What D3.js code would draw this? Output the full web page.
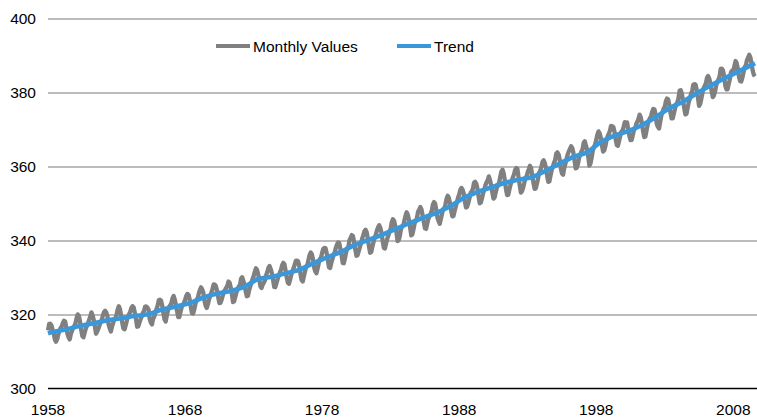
<html>
<head>
  <script src="https://d3js.org/d3.v7.min.js"></script>
  <style>
    body { margin: 0; background: #fff; }
    text { font-family: "Liberation Sans", Arial, sans-serif; fill: #000; }
    .grid line { stroke: #a6a6a6; stroke-width: 1.3; }
    .grid .domain { stroke: none; }
  </style>
</head>
<body>
  <svg width="757" height="419" id="chart"></svg>
  <script>
    // Mauna Loa CO2 (ppm), monthly, first row starts March 1958, last row ends October 2009
    const firstMonth = "1958-03";
    const monthlyValues = [
      [315.71, 317.45, 317.50, 317.10, 315.86, 314.93, 313.20, 312.66, 313.33, 314.67],
      [315.62, 316.38, 316.71, 317.72, 318.29, 318.15, 316.54, 314.80, 313.84, 313.26, 314.80, 315.58],
      [316.43, 316.97, 317.58, 319.02, 320.03, 319.59, 318.18, 315.91, 314.16, 313.83, 315.00, 316.19],
      [316.93, 317.70, 318.54, 319.48, 320.58, 319.77, 318.57, 316.79, 314.80, 315.38, 316.10, 317.01],
      [317.94, 318.56, 319.68, 320.63, 321.01, 320.55, 319.58, 317.40, 316.26, 315.42, 316.69, 317.69],
      [318.74, 319.08, 319.86, 321.39, 322.25, 321.47, 319.74, 317.77, 316.21, 315.99, 317.12, 318.31],
      [319.57, 320.07, 320.73, 321.77, 322.25, 321.89, 320.44, 318.70, 316.70, 316.79, 317.79, 318.71],
      [319.44, 320.44, 320.89, 322.13, 322.16, 321.87, 321.39, 318.81, 317.81, 317.30, 318.87, 319.42],
      [320.62, 321.59, 322.39, 323.87, 324.01, 323.75, 322.39, 320.37, 318.64, 318.10, 319.79, 321.08],
      [322.07, 322.50, 323.04, 324.42, 325.00, 324.09, 322.55, 320.92, 319.31, 319.31, 320.72, 321.96],
      [322.57, 323.15, 323.89, 325.02, 325.57, 325.36, 324.14, 322.03, 320.41, 320.25, 321.31, 322.84],
      [324.00, 324.42, 325.64, 326.66, 327.34, 326.76, 325.88, 323.67, 322.38, 321.78, 322.85, 324.11],
      [325.03, 325.99, 326.87, 328.13, 328.07, 327.66, 326.35, 324.69, 323.10, 323.16, 323.98, 325.13],
      [326.17, 326.68, 327.18, 327.78, 328.92, 328.57, 327.34, 325.46, 323.36, 323.57, 324.80, 326.01],
      [326.77, 327.63, 327.75, 329.72, 330.07, 329.09, 328.05, 326.32, 324.93, 325.06, 326.50, 327.55],
      [328.54, 329.56, 330.30, 331.50, 332.48, 332.07, 330.87, 329.31, 327.51, 327.18, 328.16, 328.64],
      [329.35, 330.71, 331.48, 332.65, 333.09, 332.25, 331.18, 329.40, 327.43, 327.37, 328.46, 329.57],
      [330.40, 331.40, 332.04, 333.31, 333.96, 333.59, 331.91, 330.06, 328.56, 328.34, 329.49, 330.76],
      [331.75, 332.56, 333.50, 334.58, 334.57, 334.34, 333.05, 330.94, 329.30, 328.94, 330.31, 331.68],
      [332.93, 333.42, 334.70, 336.07, 336.74, 336.27, 334.93, 332.75, 331.59, 331.16, 332.40, 333.85],
      [334.97, 335.39, 336.64, 337.76, 338.01, 337.89, 336.54, 334.68, 332.76, 332.54, 333.92, 334.95],
      [336.23, 336.76, 337.96, 338.89, 339.47, 339.29, 337.73, 336.09, 333.91, 333.86, 335.29, 336.73],
      [338.01, 338.36, 340.08, 340.77, 341.46, 341.17, 339.56, 337.60, 335.88, 336.01, 337.10, 338.21],
      [339.24, 340.48, 341.38, 342.51, 342.91, 342.25, 340.49, 338.43, 336.69, 336.85, 338.36, 339.61],
      [340.75, 341.61, 342.70, 343.56, 344.13, 343.35, 342.06, 339.82, 337.97, 337.86, 339.26, 340.49],
      [341.38, 342.52, 343.10, 344.94, 345.75, 345.32, 343.99, 342.39, 339.86, 339.99, 341.16, 342.99],
      [343.81, 344.06, 345.38, 346.72, 347.63, 346.97, 345.53, 343.55, 341.40, 341.67, 343.10, 344.70],
      [345.21, 346.16, 347.74, 348.33, 349.06, 348.38, 346.72, 345.02, 343.27, 343.13, 344.49, 345.88],
      [346.56, 347.28, 348.01, 349.77, 350.38, 349.93, 348.16, 346.08, 345.22, 344.51, 345.93, 347.22],
      [348.52, 348.73, 349.73, 351.31, 352.09, 351.53, 350.11, 348.08, 346.52, 346.59, 347.96, 349.16],
      [350.39, 351.64, 352.40, 353.69, 354.21, 353.72, 352.69, 350.40, 348.92, 349.13, 350.20, 351.41],
      [352.91, 353.27, 353.96, 355.64, 355.86, 355.37, 353.99, 351.81, 350.05, 350.25, 351.49, 352.85],
      [353.80, 355.04, 355.73, 356.32, 357.32, 356.34, 354.84, 353.01, 351.31, 351.62, 353.07, 354.33],
      [354.84, 355.73, 357.23, 358.66, 359.13, 358.13, 356.19, 353.85, 352.25, 352.35, 353.81, 355.12],
      [356.25, 357.11, 357.86, 359.09, 359.59, 359.33, 357.01, 354.94, 352.96, 353.32, 354.32, 355.57],
      [357.00, 357.31, 358.47, 359.27, 360.19, 359.52, 357.33, 355.64, 353.98, 354.03, 355.27, 356.70],
      [358.36, 358.91, 359.97, 361.26, 361.68, 360.95, 359.55, 357.49, 355.84, 356.00, 357.59, 359.05],
      [359.98, 361.03, 361.66, 363.48, 363.82, 363.30, 361.94, 359.50, 358.11, 357.80, 359.61, 360.74],
      [362.09, 363.29, 364.06, 364.76, 365.45, 365.01, 363.70, 361.54, 359.51, 359.65, 360.80, 362.38],
      [363.23, 364.06, 364.61, 366.40, 366.84, 365.68, 364.52, 362.57, 360.24, 360.83, 362.49, 364.34],
      [365.18, 365.98, 367.13, 368.61, 369.49, 368.95, 367.74, 365.79, 364.01, 364.35, 365.52, 367.08],
      [368.18, 368.89, 369.62, 370.99, 370.88, 370.67, 369.41, 367.35, 365.76, 365.60, 366.89, 368.25],
      [369.45, 369.71, 370.75, 371.98, 371.75, 371.87, 370.02, 368.27, 367.15, 367.18, 368.53, 369.83],
      [370.28, 371.50, 372.12, 372.87, 374.02, 373.30, 371.62, 369.55, 367.96, 368.09, 369.68, 371.24],
      [372.44, 373.08, 373.52, 374.85, 375.55, 375.40, 374.02, 371.48, 370.71, 370.25, 372.08, 373.78],
      [374.68, 375.63, 376.11, 377.65, 378.35, 378.13, 376.62, 374.50, 372.99, 373.01, 374.35, 375.70],
      [376.79, 377.37, 378.41, 380.52, 380.63, 379.57, 377.79, 375.86, 374.06, 374.24, 375.86, 377.48],
      [378.37, 379.69, 380.41, 382.10, 382.28, 382.13, 380.66, 378.71, 376.42, 376.88, 378.32, 379.92],
      [381.18, 381.83, 382.42, 384.04, 384.46, 383.75, 382.41, 380.44, 378.76, 379.15, 380.26, 381.88],
      [382.90, 383.55, 384.33, 386.41, 386.46, 385.98, 384.37, 381.86, 380.86, 380.86, 382.36, 383.61],
      [385.54, 385.92, 385.73, 387.16, 388.50, 387.88, 386.38, 384.15, 383.07, 382.98, 384.11, 385.54],
      [386.92, 387.41, 388.77, 389.46, 390.18, 389.43, 387.74, 385.91, 384.77, 384.38]
    ];

    const trendPoints = [
      ["1958-03", 314.9], ["1958-07", 315.3],
      ["1959-01", 315.64], ["1959-07", 315.97], ["1960-01", 316.44], ["1960-07", 316.91],
      ["1961-01", 317.28], ["1961-07", 317.64], ["1962-01", 318.05], ["1962-07", 318.45],
      ["1963-01", 318.72], ["1963-07", 318.99], ["1964-01", 319.31], ["1964-07", 319.62],
      ["1965-01", 319.83], ["1965-07", 320.04], ["1966-01", 320.71], ["1966-07", 321.38],
      ["1967-01", 321.77], ["1967-07", 322.16], ["1968-01", 322.60], ["1968-07", 323.04],
      ["1969-01", 323.83], ["1969-07", 324.62], ["1970-01", 325.15], ["1970-07", 325.68],
      ["1971-01", 326.00], ["1971-07", 326.32], ["1972-01", 326.89], ["1972-07", 327.45],
      ["1973-01", 328.57], ["1973-07", 329.68], ["1974-01", 329.93], ["1974-07", 330.18],
      ["1975-01", 330.65], ["1975-07", 331.11], ["1976-01", 331.58], ["1976-07", 332.04],
      ["1977-01", 332.94], ["1977-07", 333.83], ["1978-01", 334.62], ["1978-07", 335.40],
      ["1979-01", 336.12], ["1979-07", 336.84], ["1980-01", 337.80], ["1980-07", 338.75],
      ["1981-01", 339.43], ["1981-07", 340.11], ["1982-01", 340.78], ["1982-07", 341.45],
      ["1983-01", 342.25], ["1983-07", 343.05], ["1984-01", 343.85], ["1984-07", 344.65],
      ["1985-01", 345.39], ["1985-07", 346.12], ["1986-01", 346.77], ["1986-07", 347.42],
      ["1987-01", 348.31], ["1987-07", 349.19], ["1988-01", 350.38], ["1988-07", 351.57],
      ["1989-01", 352.35], ["1989-07", 353.12], ["1990-01", 353.76], ["1990-07", 354.39],
      ["1991-01", 355.00], ["1991-07", 355.61], ["1992-01", 356.03], ["1992-07", 356.45],
      ["1993-01", 356.78], ["1993-07", 357.10], ["1994-01", 357.97], ["1994-07", 358.83],
      ["1995-01", 359.83], ["1995-07", 360.82], ["1996-01", 361.72], ["1996-07", 362.61],
      ["1997-01", 363.17], ["1997-07", 363.73], ["1998-01", 365.22], ["1998-07", 366.70],
      ["1999-01", 367.54], ["1999-07", 368.38], ["2000-01", 368.97], ["2000-07", 369.55],
      ["2001-01", 370.35], ["2001-07", 371.14], ["2002-01", 372.21], ["2002-07", 373.28],
      ["2003-01", 374.54], ["2003-07", 375.80], ["2004-01", 376.66], ["2004-07", 377.52],
      ["2005-01", 378.66], ["2005-07", 379.80], ["2006-01", 380.85], ["2006-07", 381.90],
      ["2007-01", 382.85], ["2007-07", 383.79], ["2008-01", 384.70], ["2008-07", 385.60],
      ["2009-01", 386.52], ["2009-07", 387.43], ["2009-10", 387.9]
    ];

    const yTicks = [300, 320, 340, 360, 380, 400];
    const xLabelYears = [1958, 1968, 1978, 1988, 1998, 2008];
    const seriesNames = ["Monthly Values", "Trend"];
    const seriesColors = ["#808080", "#3a97d9"];

    const parseMonth = d3.timeParse("%Y-%m");
    const start = parseMonth(firstMonth);
    const monthly = monthlyValues.flat().map((v, i) => ({ date: d3.timeMonth.offset(start, i), value: v }));
    const trend = trendPoints.map(d => ({ date: parseMonth(d[0]), value: d[1] }));

    const svg = d3.select("#chart");

    const xScale = d3.scaleTime()
      .domain([start, monthly[monthly.length - 1].date])
      .range([48, 755]);
    const yScale = d3.scaleLinear().domain([300, 400]).range([388.5, 18.5]);

    // horizontal gridlines
    const gridAxis = d3.axisLeft(yScale).tickValues(yTicks.slice(1)).tickSize(-709).tickFormat("");
    svg.append("g")
      .attr("class", "grid")
      .attr("transform", "translate(48,0)")
      .call(gridAxis);

    // y tick labels
    svg.selectAll(".ylabel")
      .data(yTicks)
      .enter()
      .append("text")
      .attr("x", 36)
      .attr("y", d => yScale(d))
      .attr("dy", "0.36em")
      .style("text-anchor", "end")
      .style("font-size", "15.5px")
      .text(d => d);

    // category labels (Excel puts them on the March of each tenth year)
    svg.selectAll(".xlabel")
      .data(xLabelYears)
      .enter()
      .append("text")
      .attr("x", d => xScale(new Date(d, 2, 1)))
      .attr("y", 415)
      .style("text-anchor", "middle")
      .style("font-size", "15.5px")
      .text(d => d);

    const line = d3.line()
      .x(d => xScale(d.date))
      .y(d => yScale(d.value));

    svg.append("path")
      .datum(monthly)
      .attr("d", line)
      .attr("fill", "none")
      .attr("stroke", seriesColors[0])
      .attr("stroke-width", 4.3)
      .attr("stroke-linejoin", "round");

    svg.append("path")
      .datum(trend)
      .attr("d", line)
      .attr("fill", "none")
      .attr("stroke", seriesColors[1])
      .attr("stroke-width", 4.5)
      .attr("stroke-linejoin", "round");

    // x axis baseline at 300
    svg.append("line")
      .attr("x1", 48)
      .attr("x2", 757)
      .attr("y1", yScale(300))
      .attr("y2", yScale(300))
      .attr("stroke", "#000")
      .attr("stroke-width", 1.5);

    // legend
    const legendX = [216, 397];
    seriesNames.forEach((name, i) => {
      svg.append("line")
        .attr("x1", legendX[i])
        .attr("x2", legendX[i] + 34)
        .attr("y1", 46)
        .attr("y2", 46)
        .attr("stroke", seriesColors[i])
        .attr("stroke-width", 4);
      svg.append("text")
        .attr("x", legendX[i] + 37)
        .attr("y", 46)
        .attr("dy", "0.36em")
        .style("font-size", "15.5px")
        .text(name);
    });
  </script>
</body>
</html>
